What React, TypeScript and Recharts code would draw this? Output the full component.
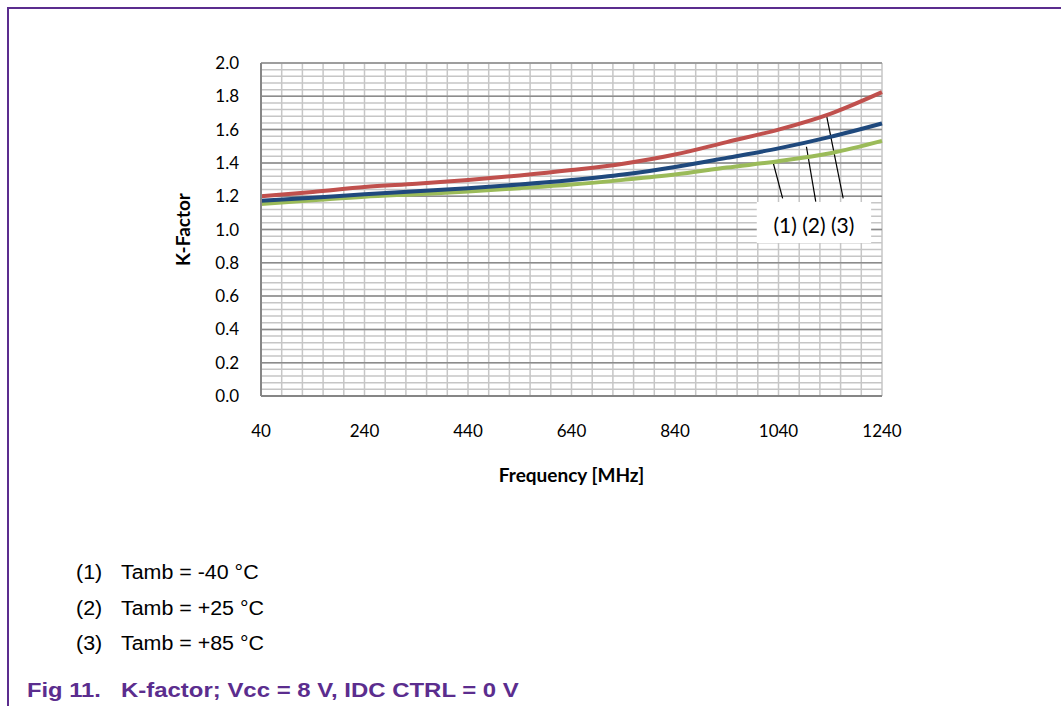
import React from 'react';
import {
  LineChart, Line, XAxis, YAxis, ReferenceLine,
} from 'recharts';

// Frequency in MHz
const freq = [40, 140, 240, 340, 440, 540, 640, 740, 840, 940, 1040, 1140, 1240];
// (1) Tamb = -40 °C
const kMinus40 = [1.153, 1.175, 1.197, 1.212, 1.228, 1.248, 1.27, 1.298, 1.33, 1.372, 1.41, 1.458, 1.532];
// (2) Tamb = +25 °C
const kPlus25 = [1.173, 1.19, 1.212, 1.23, 1.248, 1.27, 1.297, 1.33, 1.375, 1.43, 1.487, 1.556, 1.637];
// (3) Tamb = +85 °C
const kPlus85 = [1.2, 1.225, 1.255, 1.275, 1.298, 1.325, 1.357, 1.395, 1.45, 1.525, 1.6, 1.695, 1.825];

const xTicks = [40, 240, 440, 640, 840, 1040, 1240];
const yTicks = [0, 0.2, 0.4, 0.6, 0.8, 1.0, 1.2, 1.4, 1.6, 1.8, 2.0];
const xMinor = Array.from({ length: 31 }, (_, i) => 40 + i * 40);
const yMinor = Array.from({ length: 51 }, (_, i) => Math.round(i * 4) / 100);

const legendItems = ['(1)', '(2)', '(3)'];
const legendTexts = ['Tamb = -40 °C', 'Tamb = +25 °C', 'Tamb = +85 °C'];

// annotation label box (freq range, K level at its middle)
const boxFreq = [998, 1219];
const boxK = 1.042;
// annotation leader lines: [fromFreq, fromK, toFreq, toK]
const leaders: [number, number, number, number][] = [
  [1048, 1.187, 1030, 1.398],
  [1112, 1.167, 1094, 1.497],
  [1165, 1.187, 1133, 1.682],
];

const data = freq.map((f, i) => ({ f, a: kMinus40[i], b: kPlus25[i], c: kPlus85[i] }));

const PURPLE = '#5b2d8e';
const tickFont = { fontFamily: 'Lato', fontSize: 17, fill: '#000' };

export default function App() {
  return (
    <div style={{ position: 'absolute', left: 0, top: 0, width: 1061, height: 706, overflow: 'hidden', background: '#fff' }}>
      <div style={{ position: 'absolute', left: 7, top: 7, width: 1100, height: 800, borderTop: `2px solid ${PURPLE}`, borderLeft: `2px solid ${PURPLE}` }} />
      <div style={{ position: 'absolute', left: 0, top: 0 }}>
        <LineChart width={1061} height={520} data={data} margin={{ top: 63, right: 179, left: 141, bottom: 24 }}>
          {xMinor.map((v) => (
            <ReferenceLine key={'vx' + v} x={v} stroke="#c6c6c6" strokeWidth={1.5} />
          ))}
          {yMinor.map((v) => (
            <ReferenceLine key={'hy' + v} y={v} stroke="#c6c6c6" strokeWidth={1.5} />
          ))}
          {yTicks.map((v) => (
            <ReferenceLine key={'my' + v} y={v} stroke="#8c8c8c" strokeWidth={1.5} />
          ))}
          <XAxis
            dataKey="f" type="number" domain={[40, 1240]} ticks={xTicks}
            tickSize={0} tickMargin={29} height={100}
            axisLine={{ stroke: '#868686', strokeWidth: 2 }} tick={tickFont}
            label={{ value: 'Frequency [MHz]', position: 'insideBottom', offset: 14, style: { fontFamily: 'Lato', fontWeight: 'bold', fontSize: 19, fill: '#000' } }}
          />
          <YAxis
            type="number" domain={[0, 2]} ticks={yTicks} width={120}
            tickSize={0} tickMargin={22} tickFormatter={(v: number) => v.toFixed(1)}
            axisLine={{ stroke: '#868686', strokeWidth: 2 }} tick={tickFont}
            label={{ value: 'K-Factor', angle: -90, position: 'insideLeft', offset: 42, style: { textAnchor: 'middle', fontFamily: 'Lato', fontWeight: 'bold', fontSize: 19, fill: '#000' } }}
          />
          <ReferenceLine
            segment={[{ x: boxFreq[0], y: boxK }, { x: boxFreq[1], y: boxK }]}
            stroke="#ffffff" strokeWidth={41} strokeLinecap="butt"
            label={{ value: legendItems.join(' '), position: 'center', dy: 3, style: { fontFamily: 'Lato', fontSize: 21, fill: '#000' } }}
          />
          {leaders.map((l, i) => (
            <ReferenceLine key={'ld' + i} segment={[{ x: l[0], y: l[1] }, { x: l[2], y: l[3] }]} stroke="#000" strokeWidth={1.2} />
          ))}
          <Line type="monotone" dataKey="a" stroke="#9bbb59" strokeWidth={4} dot={false} isAnimationActive={false} />
          <Line type="monotone" dataKey="b" stroke="#1f497d" strokeWidth={4} dot={false} isAnimationActive={false} />
          <Line type="monotone" dataKey="c" stroke="#c0504d" strokeWidth={4} dot={false} isAnimationActive={false} />
        </LineChart>
      </div>
      {legendItems.map((it, i) => (
        <div key={i} style={{ position: 'absolute', top: 562 + i * 35.5, left: 0, fontFamily: 'Liberation Sans, Arial', fontSize: 20, lineHeight: '20px', color: '#000', whiteSpace: 'nowrap' }}>
          <span style={{ position: 'absolute', left: 76, transform: 'scaleX(1.07)', transformOrigin: 'left' }}>{it}</span>
          <span style={{ position: 'absolute', left: 121, transform: 'scaleX(1.07)', transformOrigin: 'left' }}>{legendTexts[i]}</span>
        </div>
      ))}
      <div style={{ position: 'absolute', top: 679, left: 0, fontFamily: 'Liberation Sans, Arial', fontWeight: 'bold', fontSize: 21, lineHeight: '21px', color: PURPLE, whiteSpace: 'nowrap' }}>
        <span style={{ position: 'absolute', left: 27, transform: 'scaleX(1.13)', transformOrigin: 'left' }}>Fig 11.</span>
        <span style={{ position: 'absolute', left: 121, transform: 'scaleX(1.14)', transformOrigin: 'left' }}>K-factor; Vcc = 8 V, IDC CTRL = 0 V</span>
      </div>
    </div>
  );
}
